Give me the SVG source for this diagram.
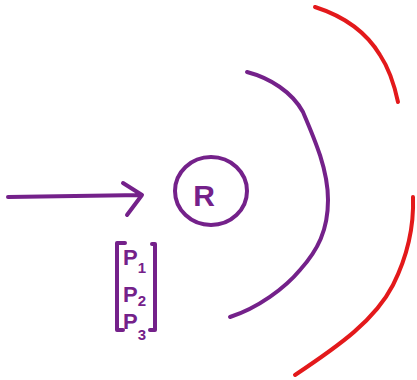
<svg xmlns="http://www.w3.org/2000/svg" width="417" height="380" viewBox="0 0 417 380">
<style>
.p{fill:none;stroke:#74218a;stroke-width:4;stroke-linecap:round;stroke-linejoin:round}
.r{fill:none;stroke:#e3191b;stroke-width:4;stroke-linecap:round;stroke-linejoin:round}
.t{fill:#74218a;font-family:"Liberation Sans",Arial,sans-serif;font-weight:bold}
</style>
<rect width="417" height="380" fill="#ffffff"/>
<g id="connectors">
<path class="p" d="M8,197 L142,195 M123,183 L142,195 L127,215"/>
</g>
<g id="node-R">
<ellipse class="p" cx="211" cy="191" rx="36" ry="34"/>
<text class="t" x="204" y="206" font-size="30" text-anchor="middle">R</text>
</g>
<g id="node-P">
<path class="p" d="M125,243 L117,243 L117,330 L123,330 M152,244 L155,244 L155,330 L150,330"/>
<text class="t" x="123" y="265" font-size="22">P<tspan font-size="15" dy="8">1</tspan></text>
<text class="t" x="123" y="302" font-size="22">P<tspan font-size="15" dy="4">2</tspan></text>
<text class="t" x="123" y="329" font-size="22">P<tspan font-size="15" dy="11">3</tspan></text>
</g>
<g id="wave-purple">
<path class="p" d="M247,72 C270,78 292,92 303,112 C315,140 328,170 328,200 C328,230 318,250 300,270 C285,288 258,308 230,317"/>
</g>
<g id="wave-red">
<path class="r" d="M315,7 C340,15 365,30 380,55 C390,70 395,88 398,102"/>
<path class="r" d="M413,197 C414,225 408,255 393,285 C375,320 340,345 295,375"/>
</g>
</svg>
